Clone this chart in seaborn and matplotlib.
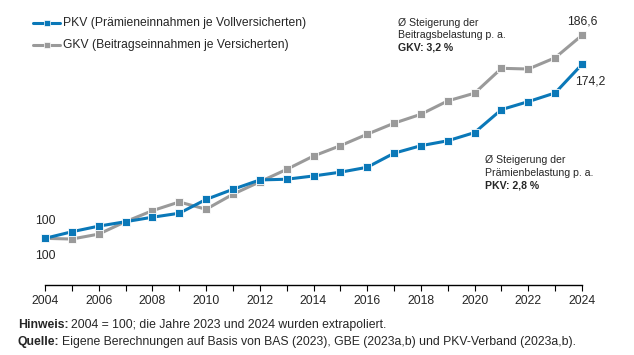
import numpy as np
import pandas as pd
import matplotlib
matplotlib.use("Agg")
import matplotlib.pyplot as plt
import seaborn as sns

# Data (2004 = 100)
years = list(range(2004, 2025))
pkv = [100.0, 102.8, 105.2, 107.1, 109.0, 110.7, 116.6, 120.9, 124.9, 125.2, 126.6,
       128.2, 130.3, 136.3, 139.5, 141.6, 145.1, 154.9, 158.3, 162.0, 174.2]
gkv = [100.0, 99.7, 101.8, 107.1, 111.8, 115.5, 112.4, 118.8, 124.1, 129.4, 135.1,
       139.5, 144.4, 149.1, 152.9, 158.6, 161.9, 172.5, 172.2, 177.0, 186.6]
pkv_label = "PKV (Prämieneinnahmen je Vollversicherten)"
gkv_label = "GKV (Beitragseinnahmen je Versicherten)"

df = pd.DataFrame({
    "Jahr": years * 2,
    "Index": pkv + gkv,
    "Reihe": [pkv_label] * len(years) + [gkv_label] * len(years),
})

sns.set_style("white")
plt.rcParams['font.family'] = ['Liberation Sans', 'DejaVu Sans']

BLUE = "#0a78b8"
GRAY = "#9a9a9a"

fig = plt.figure(figsize=(6.34, 3.55), dpi=100)
ax = fig.add_axes([45 / 634, 1 - 285 / 355, (582 - 45) / 634, (285 - 20) / 355])

# draw GKV first so PKV sits on top
sns.lineplot(data=df, x="Jahr", y="Index", hue="Reihe",
             hue_order=[gkv_label, pkv_label],
             palette={pkv_label: BLUE, gkv_label: GRAY},
             style="Reihe", markers={pkv_label: "s", gkv_label: "s"}, dashes=False,
             linewidth=2.2, markersize=6, markeredgecolor="white", markeredgewidth=0.6,
             ax=ax, legend=False, clip_on=False)

ax.set_xlim(2004, 2024)
ax.set_ylim(80.1, 193.1)
ax.set_xticks(range(2004, 2025, 2))
ax.set_xticks(range(2004, 2025), minor=True)
ax.set_yticks([])
ax.set_xlabel("")
ax.set_ylabel("")
for s in ["top", "right", "left"]:
    ax.spines[s].set_visible(False)
ax.spines["bottom"].set_color("black")
ax.spines["bottom"].set_linewidth(1.0)
ax.tick_params(axis="x", which="both", direction="out", length=4, width=0.8,
               color="black", labelsize=8.8, pad=3, bottom=True)

# legend drawn by hand
lg = [(pkv_label, BLUE, 23), (gkv_label, GRAY, 45)]
for lab, col, ypx in lg:
    yy = 1 - ypx / 355
    fig.add_artist(plt.Line2D([33 / 634, 60 / 634], [yy, yy], color=col, lw=2.2,
                              transform=fig.transFigure))
    fig.add_artist(plt.Line2D([46.5 / 634], [yy], color=col, marker="s", markersize=5,
                              markeredgecolor="white", markeredgewidth=0.5,
                              transform=fig.transFigure))
    fig.text(63 / 634, yy, lab, fontsize=8.7, va="center", ha="left")

# start labels
fig.text(45 / 634, 1 - 221 / 355, "100", fontsize=8.8, ha="center", va="center")
fig.text(45 / 634, 1 - 256 / 355, "100", fontsize=8.8, ha="center", va="center")

# end labels
fig.text(582 / 634, 1 - 22 / 355, "186,6", fontsize=8.8, ha="center", va="center")
fig.text(590 / 634, 1 - 82 / 355, "174,2", fontsize=8.8, ha="center", va="center")

# growth annotations
def note(x, y, lines, bold):
    for i, t in enumerate(lines):
        fig.text(x / 634, 1 - (y + i * 12.5) / 355, t, fontsize=7.6, ha="left",
                 va="center")
    fig.text(x / 634, 1 - (y + len(lines) * 12.5) / 355, bold, fontsize=7.6,
             ha="left", va="center", fontweight="bold")

note(398, 23, ["Ø Steigerung der", "Beitragsbelastung p. a."], "GKV: 3,2 %")
note(485, 160, ["Ø Steigerung der", "Prämienbelastung p. a."], "PKV: 2,8 %")

# footnotes: bold lead word, regular rest placed right after it
renderer = fig.canvas.get_renderer()
foot = [("Hinweis:", " 2004 = 100; die Jahre 2023 und 2024 wurden extrapoliert.", 325),
        ("Quelle:", " Eigene Berechnungen auf Basis von BAS (2023), GBE (2023a,b) und PKV-Verband (2023a,b).", 342)]
for head, rest, ypx in foot:
    t = fig.text(18 / 634, 1 - ypx / 355, head, fontsize=8.8, fontweight="bold",
                 ha="left", va="center")
    bb = t.get_window_extent(renderer=renderer)
    fig.text(bb.x1 / 634 + 2.5 / 634, 1 - ypx / 355, rest.strip(), fontsize=8.8,
             ha="left", va="center")

fig.savefig("out.png", dpi=100)
